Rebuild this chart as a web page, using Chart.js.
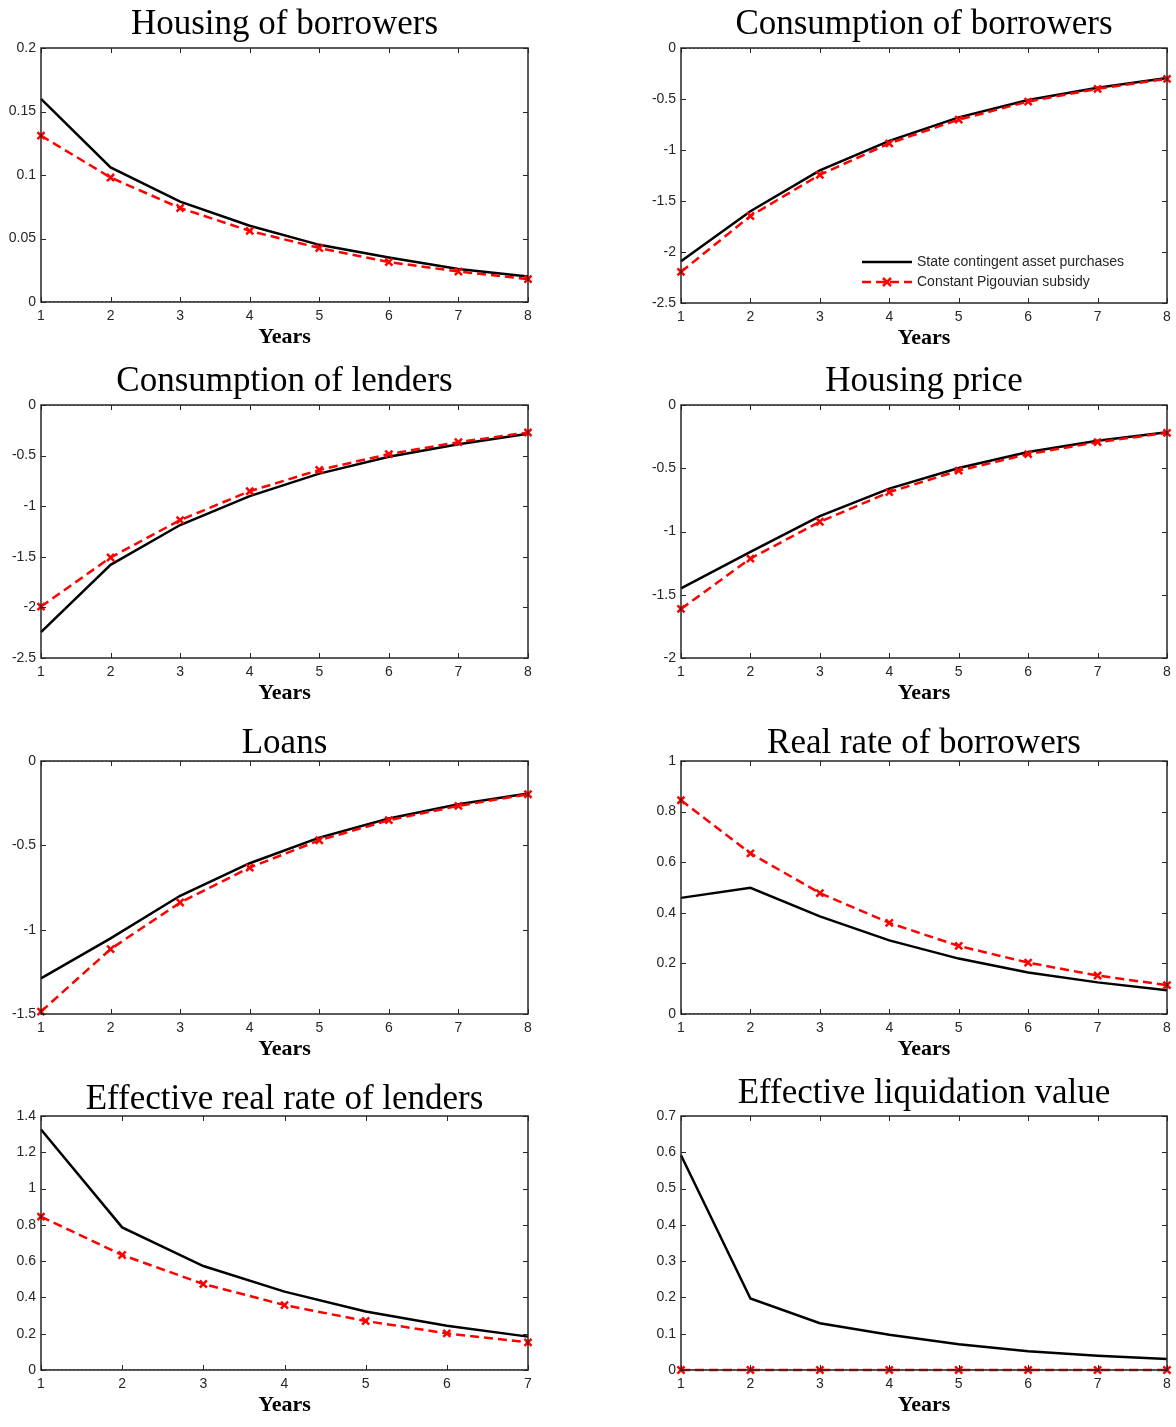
<!DOCTYPE html>
<html>
<head>
<meta charset="utf-8">
<script src="https://cdn.jsdelivr.net/npm/chart.js@4.4.1/dist/chart.umd.min.js"></script>
<style>
  body { margin: 0; background: #fff; width: 1176px; height: 1427px; position: relative; overflow: hidden; }
  canvas { position: absolute; }
</style>
</head>
<body>
<script>
// x axis categories (years)
const years8 = ["1", "2", "3", "4", "5", "6", "7", "8"];
const years7 = ["1", "2", "3", "4", "5", "6", "7"];

// series: state contingent asset purchases (black) / constant Pigouvian subsidy (red)
const housingBorrowersState = [0.160, 0.106, 0.079, 0.060, 0.045, 0.035, 0.026, 0.020];
const housingBorrowersPigou = [0.131, 0.098, 0.074, 0.056, 0.0425, 0.0315, 0.024, 0.018];

const consBorrowersState = [-2.09, -1.60, -1.20, -0.91, -0.68, -0.51, -0.39, -0.295];
const consBorrowersPigou = [-2.195, -1.647, -1.243, -0.935, -0.702, -0.525, -0.40, -0.302];

const consLendersState = [-2.244, -1.579, -1.186, -0.901, -0.678, -0.511, -0.387, -0.285];
const consLendersPigou = [-1.992, -1.507, -1.137, -0.852, -0.642, -0.485, -0.367, -0.272];

const housingPriceState = [-1.449, -1.161, -0.878, -0.661, -0.498, -0.372, -0.283, -0.215];
const housingPricePigou = [-1.612, -1.214, -0.923, -0.689, -0.519, -0.388, -0.294, -0.220];

const loansState = [-1.289, -1.052, -0.799, -0.606, -0.454, -0.341, -0.257, -0.193];
const loansPigou = [-1.486, -1.115, -0.839, -0.632, -0.470, -0.351, -0.266, -0.197];

const realRateState = [0.459, 0.499, 0.386, 0.291, 0.219, 0.164, 0.125, 0.094];
const realRatePigou = [0.845, 0.635, 0.478, 0.360, 0.269, 0.203, 0.152, 0.114];

const effRateState = [1.326, 0.786, 0.573, 0.432, 0.322, 0.244, 0.184];
const effRatePigou = [0.845, 0.634, 0.474, 0.358, 0.270, 0.202, 0.152];

const liquidationState = [0.592, 0.197, 0.129, 0.097, 0.071, 0.052, 0.039, 0.030];
const liquidationPigou = [0, 0, 0, 0, 0, 0, 0, 0];

const seriesNames = ["State contingent asset purchases", "Constant Pigouvian subsidy"];

// box = plot area [left, top, right, bottom]; gap = title centre above plot top
const panels = [
  { title: "Housing of borrowers", labels: years8, state: housingBorrowersState, pigou: housingBorrowersPigou, min: 0, max: 0.2, step: 0.05, box: [41, 48, 528, 302], gap: 23 },
  { title: "Consumption of borrowers", labels: years8, state: consBorrowersState, pigou: consBorrowersPigou, min: -2.5, max: 0, step: 0.5, box: [681, 48, 1167, 303], gap: 23, legend: true },
  { title: "Consumption of lenders", labels: years8, state: consLendersState, pigou: consLendersPigou, min: -2.5, max: 0, step: 0.5, box: [41, 405, 528, 658], gap: 23 },
  { title: "Housing price", labels: years8, state: housingPriceState, pigou: housingPricePigou, min: -2, max: 0, step: 0.5, box: [681, 405, 1167, 658], gap: 23 },
  { title: "Loans", labels: years8, state: loansState, pigou: loansPigou, min: -1.5, max: 0, step: 0.5, box: [41, 761, 528, 1014], gap: 17 },
  { title: "Real rate of borrowers", labels: years8, state: realRateState, pigou: realRatePigou, min: 0, max: 1, step: 0.2, box: [681, 761, 1167, 1014], gap: 17 },
  { title: "Effective real rate of lenders", labels: years7, state: effRateState, pigou: effRatePigou, min: 0, max: 1.4, step: 0.2, box: [41, 1116, 528, 1370], gap: 16 },
  { title: "Effective liquidation value", labels: years8, state: liquidationState, pigou: liquidationPigou, min: 0, max: 0.7, step: 0.1, box: [681, 1116, 1167, 1370], gap: 22 }
];

const AXIS_W = 45, TITLE_H = 60, XAXIS_H = 55, RIGHT_PAD = 15;
const TITLE_SIZE = 35, TITLE_LH = TITLE_SIZE * 1.2;
const ink = "#262626";

// MATLAB style box with inward ticks on all sides
const boxTicks = {
  id: "boxTicks",
  afterDatasetsDraw(chart) {
    const { ctx, chartArea: a, scales: { x, y } } = chart;
    ctx.save();
    ctx.strokeStyle = ink;
    ctx.lineWidth = 1;
    ctx.beginPath();
    x.ticks.forEach((t, i) => {
      const px = Math.round(x.getPixelForTick(i)) + 0.5;
      ctx.moveTo(px, a.bottom); ctx.lineTo(px, a.bottom - 5);
      ctx.moveTo(px, a.top); ctx.lineTo(px, a.top + 5);
    });
    y.ticks.forEach((t, i) => {
      const py = Math.round(y.getPixelForTick(i)) + 0.5;
      ctx.moveTo(a.left, py); ctx.lineTo(a.left + 5, py);
      ctx.moveTo(a.right, py); ctx.lineTo(a.right - 5, py);
    });
    ctx.stroke();
    ctx.lineWidth = 1.5;
    ctx.strokeRect(a.left, a.top, a.right - a.left, a.bottom - a.top);
    ctx.restore();
  }
};

// legend drawn inside the plot, bottom right
const innerLegend = {
  id: "innerLegend",
  afterDraw(chart) {
    const { ctx, chartArea: a } = chart;
    const items = [chart.data.datasets[1], chart.data.datasets[0]];
    ctx.save();
    ctx.font = "14px 'Liberation Sans', Arial, sans-serif";
    ctx.textBaseline = "middle";
    items.forEach((ds, i) => {
      const yy = a.bottom - 41 + i * 20;
      const x0 = a.right - 305;
      ctx.strokeStyle = ds.borderColor;
      ctx.lineWidth = 2.5;
      ctx.setLineDash(ds.borderDash || []);
      ctx.beginPath(); ctx.moveTo(x0, yy); ctx.lineTo(x0 + 50, yy); ctx.stroke();
      ctx.setLineDash([]);
      if (ds.pointStyle === "crossRot") {
        const cx = x0 + 25, r = 4;
        ctx.beginPath();
        ctx.moveTo(cx - r, yy - r); ctx.lineTo(cx + r, yy + r);
        ctx.moveTo(cx - r, yy + r); ctx.lineTo(cx + r, yy - r);
        ctx.stroke();
      }
      ctx.fillStyle = ink;
      ctx.fillText(ds.label, x0 + 55, yy);
    });
    ctx.restore();
  }
};

panels.forEach((p) => {
  const [l, t, r, b] = p.box;
  const canvas = document.createElement("canvas");
  const w = AXIS_W + (r - l) + RIGHT_PAD;
  const h = TITLE_H + (b - t) + XAXIS_H;
  canvas.width = w; canvas.height = h;
  canvas.style.left = (l - AXIS_W) + "px";
  canvas.style.top = (t - TITLE_H) + "px";
  canvas.style.width = w + "px"; canvas.style.height = h + "px";
  document.body.appendChild(canvas);

  const padTop = TITLE_H - p.gap - TITLE_LH / 2;
  const padBottom = TITLE_H - TITLE_LH - padTop;

  const zeros = p.labels.map(() => 0);
  new Chart(canvas.getContext("2d"), {
    type: "line",
    data: {
      labels: p.labels,
      datasets: [
        { label: seriesNames[1], data: p.pigou, borderColor: "#ff0000", backgroundColor: "#ff0000", borderWidth: 2.5,
          borderDash: [9, 5], pointStyle: "crossRot", pointRadius: 5, pointBorderWidth: 2.5, pointBorderColor: "#ff0000",
          tension: 0, clip: false, order: 0 },
        { label: seriesNames[0], data: p.state, borderColor: "#000000", borderWidth: 2.5, pointRadius: 0,
          tension: 0, clip: false, order: 1 },
        { label: "zero", data: zeros, borderColor: "#000000", borderWidth: 1.2, borderDash: [2, 2], pointRadius: 0,
          tension: 0, order: 2 }
      ]
    },
    options: {
      responsive: false,
      animation: false,
      events: [],
      layout: { padding: { left: 0, top: 0, right: RIGHT_PAD, bottom: 0 } },
      plugins: {
        legend: { display: false },
        tooltip: { enabled: false },
        title: {
          display: true, text: p.title, color: "#000", fullSize: false,
          font: { family: "'Liberation Serif', 'Times New Roman', serif", size: TITLE_SIZE, weight: "normal", lineHeight: 1.2 },
          padding: { top: padTop, bottom: padBottom }
        }
      },
      scales: {
        x: {
          type: "category", offset: false,
          grid: { display: false, drawTicks: false }, border: { display: false },
          ticks: { color: ink, font: { family: "'Liberation Sans', Arial, sans-serif", size: 14 }, padding: 6, maxRotation: 0, autoSkip: false },
          title: { display: true, text: "Years", color: "#000",
            font: { family: "'Liberation Serif', 'Times New Roman', serif", size: 22, weight: "bold", lineHeight: 1.2 },
            padding: { top: 0, bottom: 6.8 } },
          afterFit(s) { s.height = XAXIS_H; }
        },
        y: {
          min: p.min, max: p.max,
          grid: { display: false, drawTicks: false }, border: { display: false },
          ticks: { stepSize: p.step, color: ink, font: { family: "'Liberation Sans', Arial, sans-serif", size: 14 }, padding: 5,
            callback: (v) => String(+v.toFixed(3)) },
          afterFit(s) { s.width = AXIS_W; }
        }
      }
    },
    plugins: p.legend ? [boxTicks, innerLegend] : [boxTicks]
  });
});
</script>
</body>
</html>
